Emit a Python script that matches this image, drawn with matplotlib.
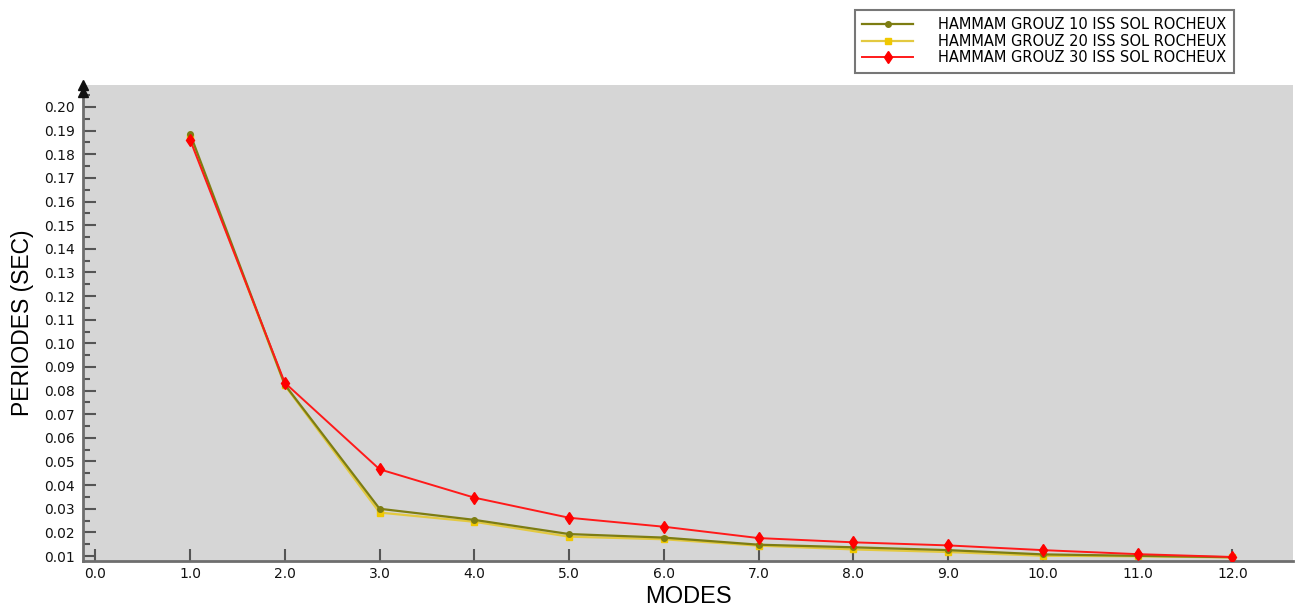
import matplotlib
matplotlib.use("Agg")
import matplotlib.pyplot as plt
from matplotlib.ticker import MultipleLocator, FormatStrFormatter

# Data
modes = [1, 2, 3, 4, 5, 6, 7, 8, 9, 10, 11, 12]
hg10 = [0.1887, 0.0825, 0.0300, 0.0253, 0.0193, 0.0178, 0.0148, 0.0137, 0.0125, 0.0107, 0.0101, 0.0095]
hg20 = [0.1875, 0.0822, 0.0284, 0.0245, 0.0182, 0.0171, 0.0144, 0.0128, 0.0117, 0.0101, 0.0099, 0.0094]
hg30 = [0.1861, 0.0833, 0.0467, 0.0347, 0.0262, 0.0224, 0.0176, 0.0158, 0.0145, 0.0125, 0.0108, 0.0096]
labels = ["HAMMAM GROUZ 10 ISS SOL ROCHEUX",
          "HAMMAM GROUZ 20 ISS SOL ROCHEUX",
          "HAMMAM GROUZ 30 ISS SOL ROCHEUX"]

W, H = 1299, 612
fig = plt.figure(figsize=(W / 100, H / 100), dpi=100)
ax = fig.add_axes([83 / W, (H - 561) / H, (1293 - 83) / W, (561 - 85) / H])
ax.set_facecolor("#d6d6d6")

l1, = ax.plot(modes, hg10, color="#7d7d12", lw=1.6, marker="o", ms=4, zorder=3)
l2, = ax.plot(modes, hg20, color="#e3c940", lw=1.6, marker="s", ms=5,
              mfc="#f0c800", mec="#f0c800", zorder=2)
l3, = ax.plot(modes, hg30, color="#ff1a1a", lw=1.4, marker="d", ms=6.5,
              mfc="#ff0000", mec="#ff0000", zorder=4)

ax.set_xlim(-0.13, 12.64)
ax.set_ylim(0.0079, 0.2093)

ax.xaxis.set_major_locator(MultipleLocator(1.0))
ax.xaxis.set_major_formatter(FormatStrFormatter("%.1f"))
ax.yaxis.set_major_locator(MultipleLocator(0.01))
ax.yaxis.set_minor_locator(MultipleLocator(0.005))
ax.yaxis.set_major_formatter(FormatStrFormatter("%.2f"))

for side in ["top", "right"]:
    ax.spines[side].set_visible(False)
for side in ["left", "bottom"]:
    ax.spines[side].set_color("#6e6e6e")
    ax.spines[side].set_linewidth(2)

ax.tick_params(axis="both", which="major", direction="in", length=9, width=1.5,
               color="#555555", labelsize=10, labelcolor="#111111")
ax.tick_params(axis="y", which="minor", direction="in", length=5, width=1.5, color="#555555")
ax.tick_params(axis="x", pad=4)
ax.tick_params(axis="y", pad=6)

ax.set_xlabel("MODES", fontsize=17, family="Liberation Sans", labelpad=4)
ax.set_ylabel("PERIODES (SEC)", fontsize=16.5, family="Liberation Sans", labelpad=7)

# double arrowhead on top of the y axis
ax.plot([0, 0], [1.0, 0.985], transform=ax.transAxes, marker="^", ms=7,
        color="#111111", ls="none", clip_on=False, zorder=6)

leg = fig.legend([l1, l2, l3], labels, loc="upper left",
                 bbox_to_anchor=(855 / W, 1 - 10 / H), ncol=1, fontsize=10.5,
                 frameon=True, fancybox=False, handlelength=3.5, handletextpad=1.7,
                 labelspacing=0.1, borderpad=0.5, borderaxespad=0)
leg.get_frame().set_edgecolor("#555555")
leg.get_frame().set_linewidth(1.5)

fig.savefig("out.png", dpi=100)
